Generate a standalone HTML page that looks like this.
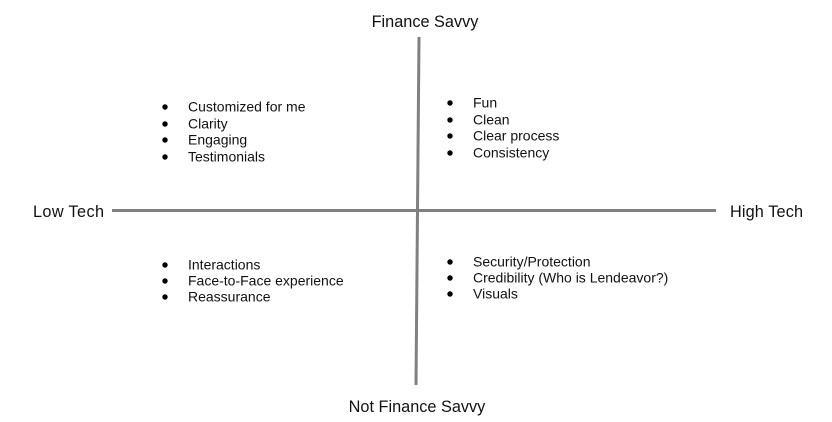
<!DOCTYPE html>
<html><head><style>
html,body{margin:0;padding:0;background:#fff;}
svg{display:block}
text{font-family:"Liberation Sans",Arial,sans-serif;fill:#111;}
.b{font-size:14px}
.l{font-size:16.3px}
</style></head><body>
<svg width="832" height="422" viewBox="0 0 832 422">
<line x1="112" y1="210.5" x2="716" y2="210.5" stroke="#808080" stroke-width="3"/>
<line x1="419" y1="37" x2="416" y2="385" stroke="#808080" stroke-width="3"/>
<text class="l" x="425" y="27" text-anchor="middle">Finance Savvy</text>
<text class="l" x="417" y="412" text-anchor="middle">Not Finance Savvy</text>
<text class="l" x="33" y="217" textLength="71">Low Tech</text>
<text class="l" x="730" y="217" textLength="73">High Tech</text>
<g fill="#000"><circle cx="165" cy="107" r="2.7"/><circle cx="165" cy="124" r="2.7"/><circle cx="165" cy="140" r="2.7"/><circle cx="165" cy="157" r="2.7"/></g>
<text class="b" x="188" y="111.5">Customized for me</text>
<text class="b" x="188" y="128.5">Clarity</text>
<text class="b" x="188" y="144.5">Engaging</text>
<text class="b" x="188" y="161.5">Testimonials</text>
<g fill="#000"><circle cx="450" cy="103" r="2.7"/><circle cx="450" cy="120" r="2.7"/><circle cx="450" cy="136" r="2.7"/><circle cx="450" cy="153" r="2.7"/></g>
<text class="b" x="473" y="107.5">Fun</text>
<text class="b" x="473" y="124.5">Clean</text>
<text class="b" x="473" y="140.5">Clear process</text>
<text class="b" x="473" y="157.5">Consistency</text>
<g fill="#000"><circle cx="165" cy="265" r="2.7"/><circle cx="165" cy="281" r="2.7"/><circle cx="165" cy="297" r="2.7"/></g>
<text class="b" x="188" y="269.5">Interactions</text>
<text class="b" x="188" y="285.5">Face-to-Face experience</text>
<text class="b" x="188" y="301.5">Reassurance</text>
<g fill="#000"><circle cx="450" cy="262" r="2.7"/><circle cx="450" cy="278" r="2.7"/><circle cx="450" cy="294" r="2.7"/></g>
<text class="b" x="473" y="266.5">Security/Protection</text>
<text class="b" x="473" y="282.5">Credibility (Who is Lendeavor?)</text>
<text class="b" x="473" y="298.5">Visuals</text>
</svg>
</body></html>
